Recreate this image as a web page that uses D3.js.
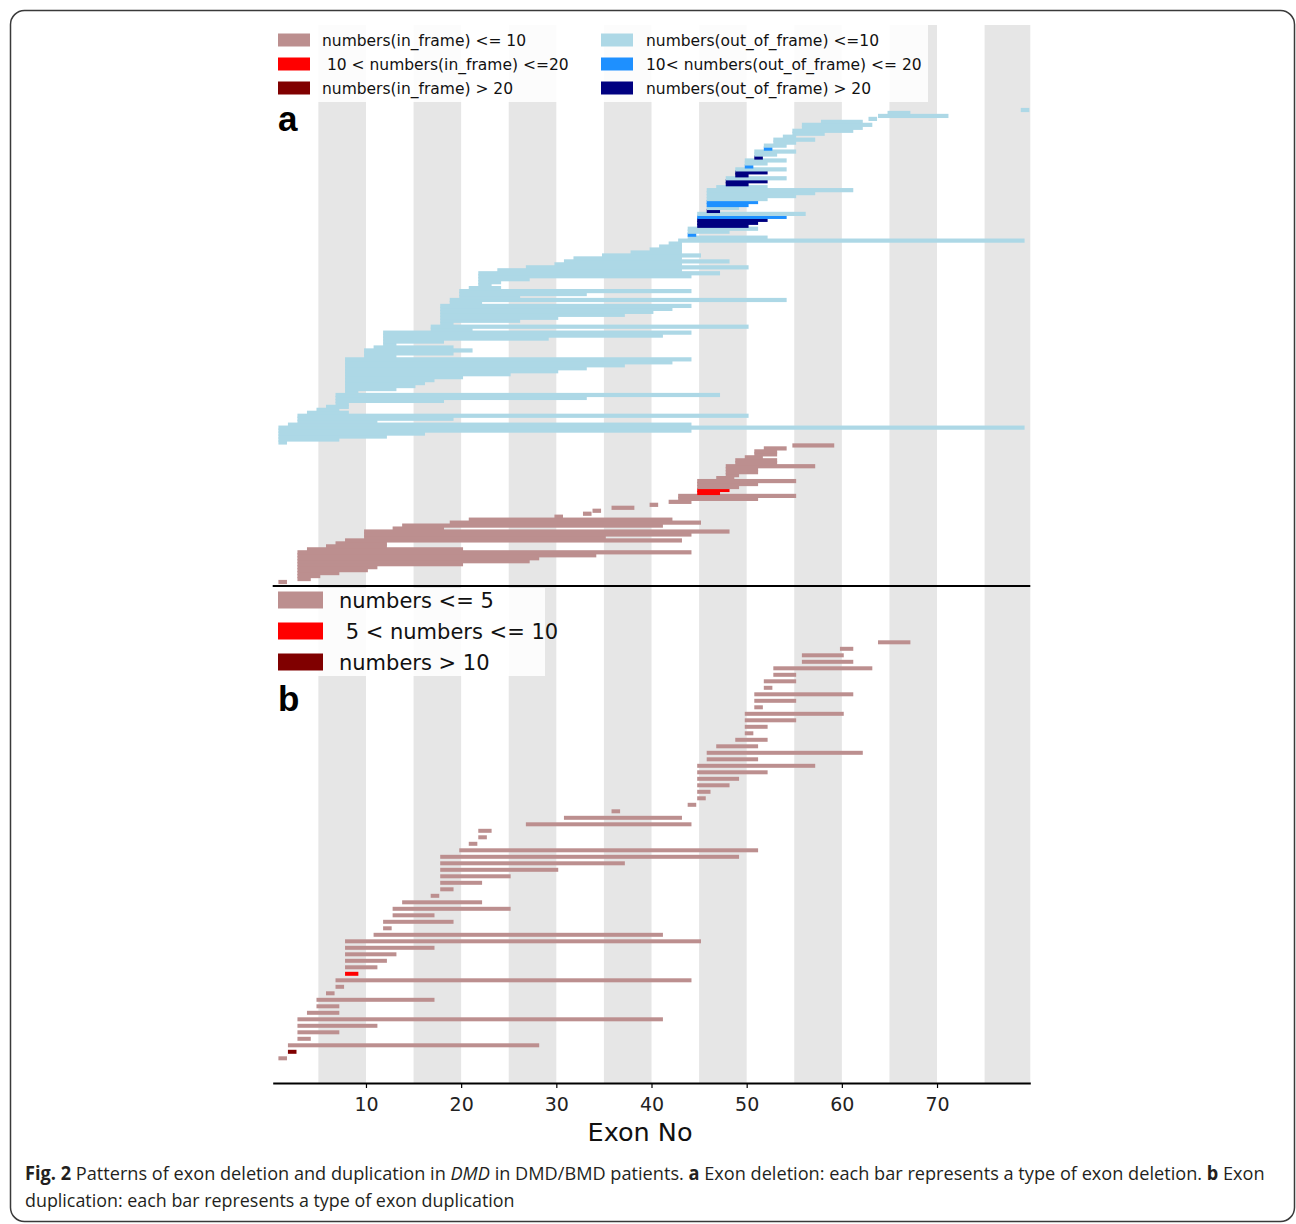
<!DOCTYPE html>
<html><head><meta charset="utf-8">
<script src="https://cdn.jsdelivr.net/npm/d3@7"></script>
<style>
html,body{margin:0;padding:0;background:#fff;}
svg{display:block;}
</style></head>
<body>
<svg id="chart" width="1296" height="1224"></svg>
<script>
// ---------- DATA (exon start, exon end, frequency class) ----------
const exonTicks = [10, 20, 30, 40, 50, 60, 70];
const shadedBands = [[5,10],[15,20],[25,30],[35,40],[45,50],[55,60],[65,70],[75,80]];

// panel a, in-frame deletions (bottom row first); class 0: <=10, 1: 10-20, 2: >20
const inFrameDeletions = [
  [1,1.5,0],[3,4,0],[3,5,0],[3,7,0],[3,10,0],[3,11,0],[3,20,0],[3,27,0],[3,28,0],[3,34,0],
  [3,44,0],[4,20,0],[6,12,0],[7,12,0],[8,43,0],[10,35,0],[10,44,0],[10,48,0],[13,18,0],[14,41,0],
  [19,45,0],[21,42,0],[30,30.5,0],[33,33.5,0],[34,34.5,0],[36,38,0],[40,40.5,0],[42,44,0],[43,51,0],[43,55,0],
  [45,47,1],[45,48,1],[45,49,0],[45,51,0],[45,55,0],[47,48.5,0],[48,49,0],[48,51,0],[48,51,0],[48,57,0],
  [49,53,0],[49,53,0],[50,51.5,0],[51,53,0],[51,53,0],[52,54,0],[55,59,0]
];

// panel a, out-of-frame deletions (continue upwards)
const outFrameDeletions = [
  [1,1.5,0],[1,7,0],[1,12,0],[1,16,0],[1,44,0],[1,79,0],
  [2,44,0],
  [3,11,0],[3,19,0],[3,50,0],
  [4,8,0],[5,7,0],[6,8,0],
  [7,8,0],[7,18,0],[7,33,0],[7,47,0],
  [8,9,0],[8,13,0],[8,15,0],[8,16,0],[8,17,0],[8,20,0],[8,25,0],[8,30,0],[8,33,0],[8,37,0],[8,42,0],[8,44,0],
  [10,13,0],[10,19,0],[10,21,0],
  [11,19,0],
  [12,13,0],[12,18,0],[12,29,0],[12,41,0],[12,44,0],
  [17,21,0],[17,50,0],
  [18,19,0],[18,26,0],[18,30,0],[18,37,0],[18,40,0],[18,42,0],[18,44,0],
  [19,22,0],[19,54,0],
  [20,26,0],[20,33,0],[20,44,0],
  [21,24,0],
  [22,23,0],[22,24,0],[22,27,0],[22,44,0],[22,47,0],
  [24,43,0],[27,50,0],[30,43,0],[31,48,0],[32,43,0],[35,45,0],[38,43,0],[40,43,0],[41,43,0],[42,43,0],
  [43,79,0],
  [44,52,0],[44,44.5,1],[44,48,0],[44,51,0],
  [45,50,2],[45,51,2],[45,52,2],[45,54,1],[45,56,0],
  [46,47,2],[46,49,0],[46,50,1],[46,51,1],[46,52,0],[46,55,0],[46,57,0],[46,61,0],
  [47,52,0],
  [48,50,2],[48,52,2],[48,54,0],
  [49,50,2],[49,52,2],[49,54,0],
  [50,50.5,1],[50,52,0],[50,54,0],
  [51,51.5,2],[51,53,0],[51,55,0],
  [52,52.5,1],[52,54,0],
  [53,55,0],[53,57,0],
  [54,55,0],[55,58,0],[55,61,0],
  [56,62,0],[56,63,0],
  [58,62,0],
  [63,63.5,0],[64,71,0],[65,67,0],[79,79.5,0]
];

// panel b, duplications (bottom row first); class 0: <=5, 1: 5-10, 2: >10
const duplications = [
  [1,1.5,0],[2,2.5,2],[2,28,0],[3,4,0],[3,7,0],[3,11,0],[3,41,0],[4,7,0],[5,7,0],[5,17,0],
  [6,6.5,0],[7,7.5,0],[7,44,0],[8,9,1],[8,11,0],[8,12,0],[8,13,0],[8,17,0],[8,45,0],[11,41,0],
  [12,12.5,0],[12,19,0],[13,17,0],[13,25,0],[14,22,0],[17,17.5,0],[18,19,0],[18,22,0],[18,25,0],[18,30,0],
  [18,37,0],[18,49,0],[20,51,0],[21,21.5,0],[22,22.5,0],[22,23,0],[27,44,0],[31,43,0],[36,36.5,0],[44,44.5,0],
  [45,45.5,0],[45,46,0],[45,48,0],[45,49,0],[45,52,0],[45,57,0],[46,51,0],[46,62,0],[47,51,0],[49,52,0],
  [50,50.5,0],[50,52,0],[50,55,0],[50,60,0],[51,51.5,0],[51,55,0],[51,61,0],[52,52.5,0],[52,55,0],[53,55,0],
  [53,63,0],[56,61,0],[56,60,0],[60,61,0],[64,67,0]
];

const inFrameColors  = ["#BC8F8F", "#FF0000", "#800000"];
const outFrameColors = ["#ADD8E6", "#1E90FF", "#000080"];
const dupColors      = ["#BC8F8F", "#FF0000", "#800000"];

const legendALeft  = ["numbers(in_frame) <= 10", " 10 < numbers(in_frame) <=20", "numbers(in_frame) > 20"];
const legendARight = ["numbers(out_of_frame) <=10", "10< numbers(out_of_frame) <= 20", "numbers(out_of_frame) > 20"];
const legendB      = ["numbers <= 5", " 5 < numbers <= 10", "numbers > 10"];

const captionLine1 = [
  ["Fig. 2", "bold"], [" Patterns of exon deletion and duplication in ", ""], ["DMD", "italic"],
  [" in DMD/BMD patients. ", ""], ["a", "bold"], [" Exon deletion: each bar represents a type of exon deletion. ", ""],
  ["b", "bold"], [" Exon", ""]
];
const captionLine2 = "duplication: each bar represents a type of exon duplication";

// ---------- LAYOUT ----------
const svg = d3.select("#chart");
const FONT = "DejaVu Sans, sans-serif";
const plotL = 272.7, plotR = 1030.3;
const aTop = 25, aBottom = 586, bBottom = 1083;
const barH = 4.2;

const x = d3.scaleLinear().domain([0.2, 79.8]).range([plotL, plotR]);

// frame
svg.append("rect").attr("x", 10.5).attr("y", 10.5).attr("width", 1284).attr("height", 1211)
  .attr("rx", 14).attr("fill", "none").attr("stroke", "#3a3a3a").attr("stroke-width", 1.5);

// shaded bands
function bands(y0, y1) {
  svg.append("g").selectAll("rect").data(shadedBands).join("rect")
    .attr("x", d => x(d[0]))
    .attr("width", d => x(Math.min(d[1], 79.8)) - x(d[0]))
    .attr("y", y0).attr("height", y1 - y0)
    .attr("fill", "#e6e6e6");
}
bands(aTop, aBottom);
bands(aBottom, bBottom);

// panel a bars
const rowsA = inFrameDeletions.map(d => ({s: d[0], e: d[1], c: inFrameColors[d[2]]}))
  .concat(outFrameDeletions.map(d => ({s: d[0], e: d[1], c: outFrameColors[d[2]]})));
const yA = d3.scaleLinear().domain([0, rowsA.length - 1]).range([582, 110]);
svg.append("g").selectAll("rect").data(rowsA).join("rect")
  .attr("x", d => x(d.s - 0.2))
  .attr("width", d => x(d.e + 0.2) - x(d.s - 0.2))
  .attr("y", (d, i) => yA(i) - barH / 2)
  .attr("height", barH)
  .attr("fill", d => d.c);

// panel b bars
const yB = d3.scaleLinear().domain([0, duplications.length - 1]).range([1058.3, 642.3]);
svg.append("g").selectAll("rect").data(duplications).join("rect")
  .attr("x", d => x(d[0] - 0.2))
  .attr("width", d => x(d[1] + 0.2) - x(d[0] - 0.2))
  .attr("y", (d, i) => yB(i) - 2)
  .attr("height", 4)
  .attr("fill", d => dupColors[d[2]]);

// legend a
svg.append("rect").attr("x", 273).attr("y", aTop).attr("width", 655).attr("height", 77)
  .attr("fill", "#fff").attr("opacity", 0.88);
const legA = svg.append("g");
[[legendALeft, inFrameColors, 278, 322], [legendARight, outFrameColors, 601, 646]].forEach(([labels, cols, sx, tx]) => {
  labels.forEach((t, i) => {
    const cy = 40 + i * 24;
    legA.append("rect").attr("x", sx).attr("y", cy - 6.5).attr("width", 32).attr("height", 13).attr("fill", cols[i]);
    legA.append("text").attr("x", tx).attr("y", cy).attr("dy", "0.36em")
      .style("white-space", "pre").attr("font-family", FONT).attr("font-size", 15.5).attr("fill", "#111").text(t);
  });
});

// legend b
svg.append("rect").attr("x", 273).attr("y", 588).attr("width", 272).attr("height", 88)
  .attr("fill", "#fff").attr("opacity", 0.88);
const legB = svg.append("g");
legendB.forEach((t, i) => {
  const cy = 600 + i * 31;
  legB.append("rect").attr("x", 278).attr("y", cy - 8.5).attr("width", 45).attr("height", 17).attr("fill", dupColors[i]);
  legB.append("text").attr("x", 339).attr("y", cy).attr("dy", "0.36em")
    .style("white-space", "pre").attr("font-family", FONT).attr("font-size", 21).attr("fill", "#111").text(t);
});

// panel labels
svg.append("text").attr("x", 278).attr("y", 131).attr("font-family", "Liberation Sans, Arial, sans-serif")
  .attr("font-weight", "bold").attr("font-size", 35).attr("fill", "#000").text("a");
svg.append("text").attr("x", 278).attr("y", 711).attr("font-family", "Liberation Sans, Arial, sans-serif")
  .attr("font-weight", "bold").attr("font-size", 35).attr("fill", "#000").text("b");

// divider between panels
svg.append("line").attr("x1", plotL).attr("x2", plotR).attr("y1", aBottom).attr("y2", aBottom)
  .attr("stroke", "#000").attr("stroke-width", 2);

// x axis
const axis = svg.append("g").attr("transform", `translate(0,${bBottom})`)
  .call(d3.axisBottom(x).tickValues(exonTicks).tickSize(5).tickSizeOuter(0).tickPadding(10).tickFormat(d3.format("d")));
axis.select(".domain").attr("stroke", "#000").attr("stroke-width", 2);
axis.selectAll(".tick line").attr("stroke", "#000").attr("stroke-width", 1.2);
axis.selectAll(".tick text").attr("font-family", FONT).attr("font-size", 19).attr("fill", "#222");

svg.append("text").attr("x", 640).attr("y", 1141).attr("text-anchor", "middle")
  .attr("font-family", FONT).attr("font-size", 25.5).attr("fill", "#111").text("Exon No");

// caption: one text per line, horizontally condensed to the measured width of the reference
function captionLine(parts, y, targetW) {
  const g = svg.append("g");
  const t = g.append("text").attr("x", 0).attr("y", 0)
    .attr("font-family", "Open Sans, sans-serif").attr("font-size", 19).attr("fill", "#231f20")
    .style("white-space", "pre");
  parts.forEach(([s, style]) => {
    const ts = t.append("tspan").text(s);
    if (style === "bold") ts.attr("font-weight", "bold");
    if (style === "italic") ts.attr("font-style", "italic");
  });
  const w = t.node().getComputedTextLength() || targetW;
  g.attr("transform", `translate(25,${y}) scale(${targetW / w},1)`);
}
captionLine(captionLine1, 1180, 1240);
captionLine([[captionLine2, ""]], 1207, 490);
</script>
</body></html>
